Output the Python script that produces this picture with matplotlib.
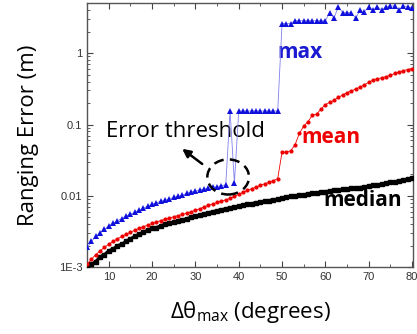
import matplotlib
matplotlib.use('Agg')
import matplotlib.pyplot as plt
from matplotlib.patches import Ellipse
from matplotlib.ticker import FixedLocator, FixedFormatter, LogLocator, NullFormatter, MultipleLocator

plt.rcParams['mathtext.fontset'] = 'custom'
plt.rcParams['mathtext.rm'] = 'Open Sans'
plt.rcParams['mathtext.it'] = 'Open Sans'

# угол, градусы
theta = list(range(5, 81))

# максимум ошибки
err_max = [0.0019, 0.0023, 0.0027, 0.0030, 0.0034, 0.0038, 0.0041, 0.0045, 0.0048, 0.0052,
           0.0055, 0.0059, 0.0063, 0.0067, 0.0072, 0.0076, 0.0080, 0.0084, 0.0087, 0.0091,
           0.0095, 0.0099, 0.0103, 0.0108, 0.0113, 0.0118, 0.0121, 0.0125, 0.0128, 0.0132,
           0.0135, 0.0139, 0.0143,
           0.157, 0.0152,
           0.155, 0.155, 0.155, 0.155, 0.155, 0.155, 0.155, 0.155, 0.155, 0.155,
           2.6, 2.6, 2.6, 2.85, 2.85, 2.85, 2.85, 2.85, 2.85, 2.85, 2.85,
           3.7, 3.1, 4.5, 3.7, 3.7, 3.7, 3.1, 4.0, 3.8, 4.5,
           4.0, 4.5, 4.0, 4.5, 4.6, 4.6, 4.0, 4.6, 4.5, 4.3]

# среднее
err_mean = [0.0011, 0.0013, 0.0015, 0.0017, 0.0019, 0.0021, 0.0023, 0.0025, 0.0027, 0.0029,
            0.0031, 0.0033, 0.0035, 0.0037, 0.0039, 0.0041, 0.0043, 0.0045, 0.0047, 0.0049,
            0.0051, 0.0053, 0.0055, 0.0057, 0.0060, 0.0063, 0.0066, 0.0070, 0.0074, 0.0077,
            0.0081, 0.0084, 0.0088, 0.0092, 0.0098, 0.0105, 0.0112, 0.0119, 0.0126, 0.0133,
            0.0140, 0.0148, 0.0155, 0.0163, 0.0175, 0.041, 0.041, 0.043, 0.052, 0.075,
            0.095, 0.110, 0.135, 0.140, 0.165, 0.190, 0.205, 0.220, 0.240, 0.260,
            0.280, 0.295, 0.315, 0.335, 0.360, 0.390, 0.420, 0.440, 0.450, 0.470,
            0.490, 0.520, 0.540, 0.570, 0.590, 0.610]

# медиана
err_median = [0.0010, 0.0011, 0.0012, 0.0014, 0.0015, 0.0017, 0.0018, 0.0020, 0.0021, 0.0023,
              0.0025, 0.0027, 0.0029, 0.0031, 0.0033, 0.0035, 0.0036, 0.0038, 0.0040, 0.0041,
              0.0043, 0.0045, 0.0046, 0.0048, 0.0050, 0.0052, 0.0054, 0.0056, 0.0058, 0.0060,
              0.0062, 0.0064, 0.0066, 0.0068, 0.0070, 0.0072, 0.0074, 0.0076, 0.0078, 0.0080,
              0.0082, 0.0084, 0.0086, 0.0088, 0.0090, 0.0093, 0.0096, 0.0098, 0.0100, 0.0102,
              0.0104, 0.0106, 0.0108, 0.0110, 0.0112, 0.0115, 0.0117, 0.0119, 0.0121, 0.0123,
              0.0125, 0.0127, 0.0129, 0.0131, 0.0134, 0.0137, 0.0140, 0.0143, 0.0146, 0.0150,
              0.0154, 0.0158, 0.0162, 0.0167, 0.0172, 0.0178]

y_ticks = [0.001, 0.01, 0.1, 1]
y_labels = ['1E-3', '0.01', '0.1', '1']
x_ticks = [10, 20, 30, 40, 50, 60, 70, 80]

fig = plt.figure(figsize=(4.17, 3.34), dpi=100)
ax = fig.add_axes([0.209, 0.2, 0.781, 0.79])

# линии с маркерами
ax.plot(theta, err_median, color='black', marker='s', markersize=3.4, lw=2.2, zorder=3)
ax.plot(theta, err_mean, color='#ee0000', marker='o', markersize=3.0, lw=0.6,
        markeredgewidth=0, zorder=4)
ax.plot(theta, err_max, color='#8080ee', marker='^', markersize=4.0, lw=0.6,
        markeredgewidth=0, markerfacecolor='#1010dd', zorder=5)

ax.set_yscale('log')
ax.set_xlim(5, 80.2)
ax.set_ylim(0.001, 5)

ax.yaxis.set_major_locator(FixedLocator(y_ticks))
ax.yaxis.set_major_formatter(FixedFormatter(y_labels))
ax.yaxis.set_minor_locator(LogLocator(base=10, subs=range(2, 10)))
ax.yaxis.set_minor_formatter(NullFormatter())
ax.xaxis.set_major_locator(FixedLocator(x_ticks))
ax.xaxis.set_minor_locator(MultipleLocator(5))

ax.tick_params(which='both', direction='in', top=True, right=True, colors='#444444',
               labelsize=8, labelcolor='#333333')
ax.tick_params(which='major', length=4, width=0.8)
ax.tick_params(which='minor', length=2, width=0.6)
for lab in ax.get_xticklabels() + ax.get_yticklabels():
    lab.set_fontfamily('Liberation Sans')
for s in ax.spines.values():
    s.set_color('#555555')
    s.set_linewidth(1.0)

ax.set_ylabel('Ranging Error (m)', fontsize=16, family='Open Sans', labelpad=14)
ax.set_xlabel(r'$\Delta\theta_{\mathrm{max}}$ (degrees)', fontsize=16, family='Open Sans',
              labelpad=12)

# подписи кривых
bold = dict(transform=ax.transAxes, fontsize=15, fontweight='bold', family='Open Sans',
            ha='center', va='center')
ax.text(0.653, 0.812, 'max', color='#1a1ad0', **bold)
ax.text(0.748, 0.49, 'mean', color='#ee0000', **bold)
ax.text(0.845, 0.252, 'median', color='black', **bold)
ax.text(0.303, 0.515, 'Error threshold', transform=ax.transAxes, color='black', fontsize=16,
        family='Open Sans', ha='center', va='center')

# пунктирный эллипс и стрелка
ax.add_patch(Ellipse((0.433, 0.342), 0.128, 0.133, transform=ax.transAxes, fill=False,
                     ls=(0, (4, 2.5)), lw=1.8, color='black', zorder=6))
ax.annotate('', xy=(0.285, 0.455), xytext=(0.36, 0.385), xycoords='axes fraction',
            arrowprops=dict(arrowstyle='-|>', color='black', lw=1.8, mutation_scale=12))

fig.savefig('out.png', dpi=100)
